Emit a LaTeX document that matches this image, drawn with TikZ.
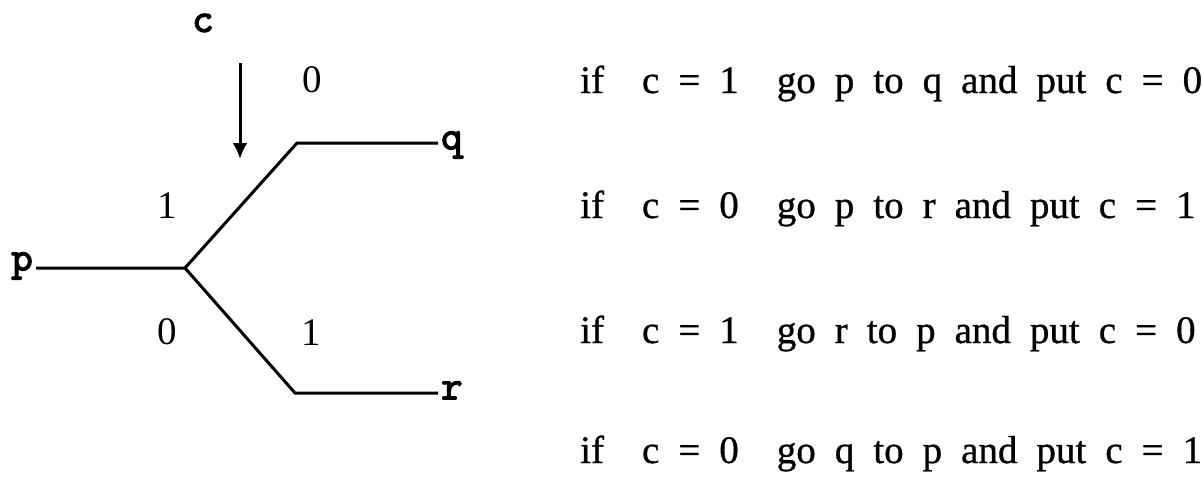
\documentclass[tikz,border=0pt]{standalone}
\usepackage{fontspec}
\setmainfont{Liberation Serif}
\newfontfamily\rulefont{Liberation Serif}[FakeBold=0.8]
\newfontfamily\labfont{lmmono10-regular}[Extension=.otf, FakeBold=3]
\usetikzlibrary{arrows.meta}
\newlength\mspace
\setlength\mspace{19pt}
\ExplSyntaxOn
\NewDocumentCommand\mline{m}
 {
  \str_map_inline:nn {#1}
   {
    \str_if_eq:nnTF {##1} {_}
     { \hspace*{\mspace} }
     { ##1 }
   }
 }
\ExplSyntaxOff
\tikzset{
  wire/.style={line width=3pt},
  lab/.style={font=\labfont\fontsize{41}{43}\selectfont, inner sep=3pt},
  dig/.style={font=\fontsize{39}{42}\selectfont, inner sep=0pt},
  txt/.style={font=\rulefont\fontsize{39}{42}\selectfont, inner sep=0pt, anchor=base west},
}
\begin{document}
\begin{tikzpicture}[x=1pt,y=-1pt]
\useasboundingbox (0,0) rectangle (1203,477);
% junction points
\coordinate (J) at (185,268);
\coordinate (U) at (297,143);
\coordinate (L) at (295,393);
\coordinate (A1) at (240,63);
\coordinate (A2) at (240,159);
% end labels
\node[lab, anchor=center] (c) at (203,23) {c};
\node[lab, anchor=mid east] (p) at (36,268) {p};
\node[lab, anchor=mid west] (q) at (438,147) {q};
\node[lab, anchor=mid west] (r) at (438,397) {r};
% digits
\node[dig] (u0) at (312,80) {0};
\node[dig] (u1) at (167,206) {1};
\node[dig] (l0) at (167,332) {0};
\node[dig] (l1) at (311,333) {1};
% branches
\draw[wire] (p.mid east) -- (J) -- (U) -- (U -| q.west);
\draw[wire] (J) -- (L) -- (L -| r.west);
\draw[wire, -{Latex[length=16pt,width=15pt]}] (A1) -- (A2);
% rules
\node[txt] (t1) at (580,93)  {\mline{if__c_=_1__go_p_to_q_and_put_c_=_0}};
\node[txt] (t2) at (580,218) {\mline{if__c_=_0__go_p_to_r_and_put_c_=_1}};
\node[txt] (t3) at (580,343) {\mline{if__c_=_1__go_r_to_p_and_put_c_=_0}};
\node[txt] (t4) at (580,463) {\mline{if__c_=_0__go_q_to_p_and_put_c_=_1}};
\end{tikzpicture}
\end{document}
